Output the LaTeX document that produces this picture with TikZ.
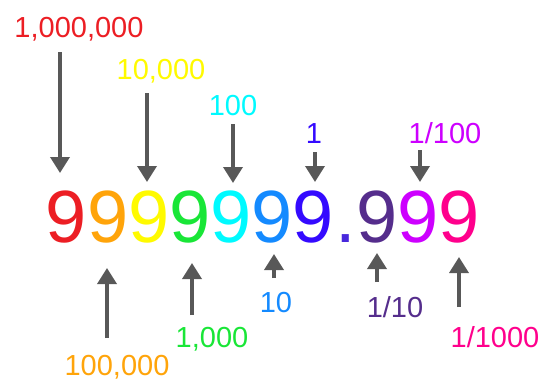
\documentclass[tikz,border=0pt]{standalone}
\usepackage{fontspec}
\setmainfont{Liberation Sans}
\usepackage{tikz}
\usetikzlibrary{arrows.meta, positioning}
\definecolor{c1}{RGB}{236,30,36}
\definecolor{c2}{RGB}{255,164,10}
\definecolor{c3}{RGB}{255,250,0}
\definecolor{c4}{RGB}{25,230,55}
\definecolor{c5}{RGB}{0,250,255}
\definecolor{c6}{RGB}{20,138,255}
\definecolor{c7}{RGB}{52,10,255}
\definecolor{cdot}{RGB}{72,40,220}
\definecolor{c8}{RGB}{85,45,140}
\definecolor{c9}{RGB}{205,0,255}
\definecolor{c10}{RGB}{255,0,140}
\definecolor{ptrcolor}{RGB}{88,88,88}
\tikzset{
  digit/.style={text=#1, inner sep=0pt, anchor=base,
                font=\fontsize{74}{74}\selectfont},
  placelbl/.style={text=#1, inner sep=0pt, anchor=base,
                   font=\fontsize{29}{29}\selectfont},
  ptr/.style={-{Triangle[length=16pt, width=19pt]}, line width=3.5pt,
              draw=ptrcolor},
}
\begin{document}
\begin{tikzpicture}[x=1pt, y=-1pt]
  \useasboundingbox (0,0) rectangle (542,383);

  % The number
  \node[digit=c1]   (d1)  at (66,242)  {9};
  \node[digit=c2]   (d2)  at (108,242) {9};
  \node[digit=c3]   (d3)  at (149,242) {9};
  \node[digit=c4]   (d4)  at (190,242) {9};
  \node[digit=c5]   (d5)  at (231,242) {9};
  \node[digit=c6]   (d6)  at (272,242) {9};
  \node[digit=c7]   (d7)  at (313,242) {9};
  \node[digit=cdot] (pt)  at (346,242) {.};
  \node[digit=c8]   (f1)  at (377,242) {9};
  \node[digit=c9]   (f2)  at (418,242) {9};
  \node[digit=c10]  (f3)  at (459,242) {9};

  % Place values above
  \node[placelbl=c1] (lmil)  at (79,37)   {1,000,000};
  \node[placelbl=c3] (ltth)  at (161,79)  {10,000};
  \node[placelbl=c5] (lhun)  at (233,115) {100};
  \node[placelbl=c7] (lone)  at (314,143) {1};
  \node[placelbl=c9] (lhdth) at (445,143) {1/100};

  % Place values below
  \node[placelbl=c2]  (lhth)  at (117,375) {100,000};
  \node[placelbl=c4]  (lth)   at (212,347) {1,000};
  \node[placelbl=c6]  (lten)  at (276,312) {10};
  \node[placelbl=c8]  (ltnth) at (395,317) {1/10};
  \node[placelbl=c10] (lthth) at (495,347) {1/1000};

  % Arrow ends
  \coordinate (smil)  at (60,52);   \coordinate (emil)  at (60,173);
  \coordinate (stth)  at (147,93);  \coordinate (etth)  at (147,182);
  \coordinate (shun)  at (233,124); \coordinate (ehun)  at (233,183);
  \coordinate (sone)  at (315,152); \coordinate (eone)  at (315,182);
  \coordinate (shdth) at (420,150); \coordinate (ehdth) at (420,182);
  \coordinate (shth)  at (107,338); \coordinate (ehth)  at (107,268);
  \coordinate (sth)   at (192,315); \coordinate (eth)   at (192,263);
  \coordinate (sten)  at (274,278); \coordinate (eten)  at (274,254);
  \coordinate (stnth) at (377,282); \coordinate (etnth) at (377,253);
  \coordinate (sthth) at (459,307); \coordinate (ethth) at (459,257);

  % Down arrows
  \draw[ptr] (smil) -- (emil);
  \draw[ptr] (stth) -- (etth);
  \draw[ptr] (shun) -- (ehun);
  \draw[ptr] (sone) -- (eone);
  \draw[ptr] (shdth) -- (ehdth);

  % Up arrows
  \draw[ptr] (shth) -- (ehth);
  \draw[ptr] (sth) -- (eth);
  \draw[ptr] (sten) -- (eten);
  \draw[ptr] (stnth) -- (etnth);
  \draw[ptr] (sthth) -- (ethth);

\end{tikzpicture}
\end{document}
